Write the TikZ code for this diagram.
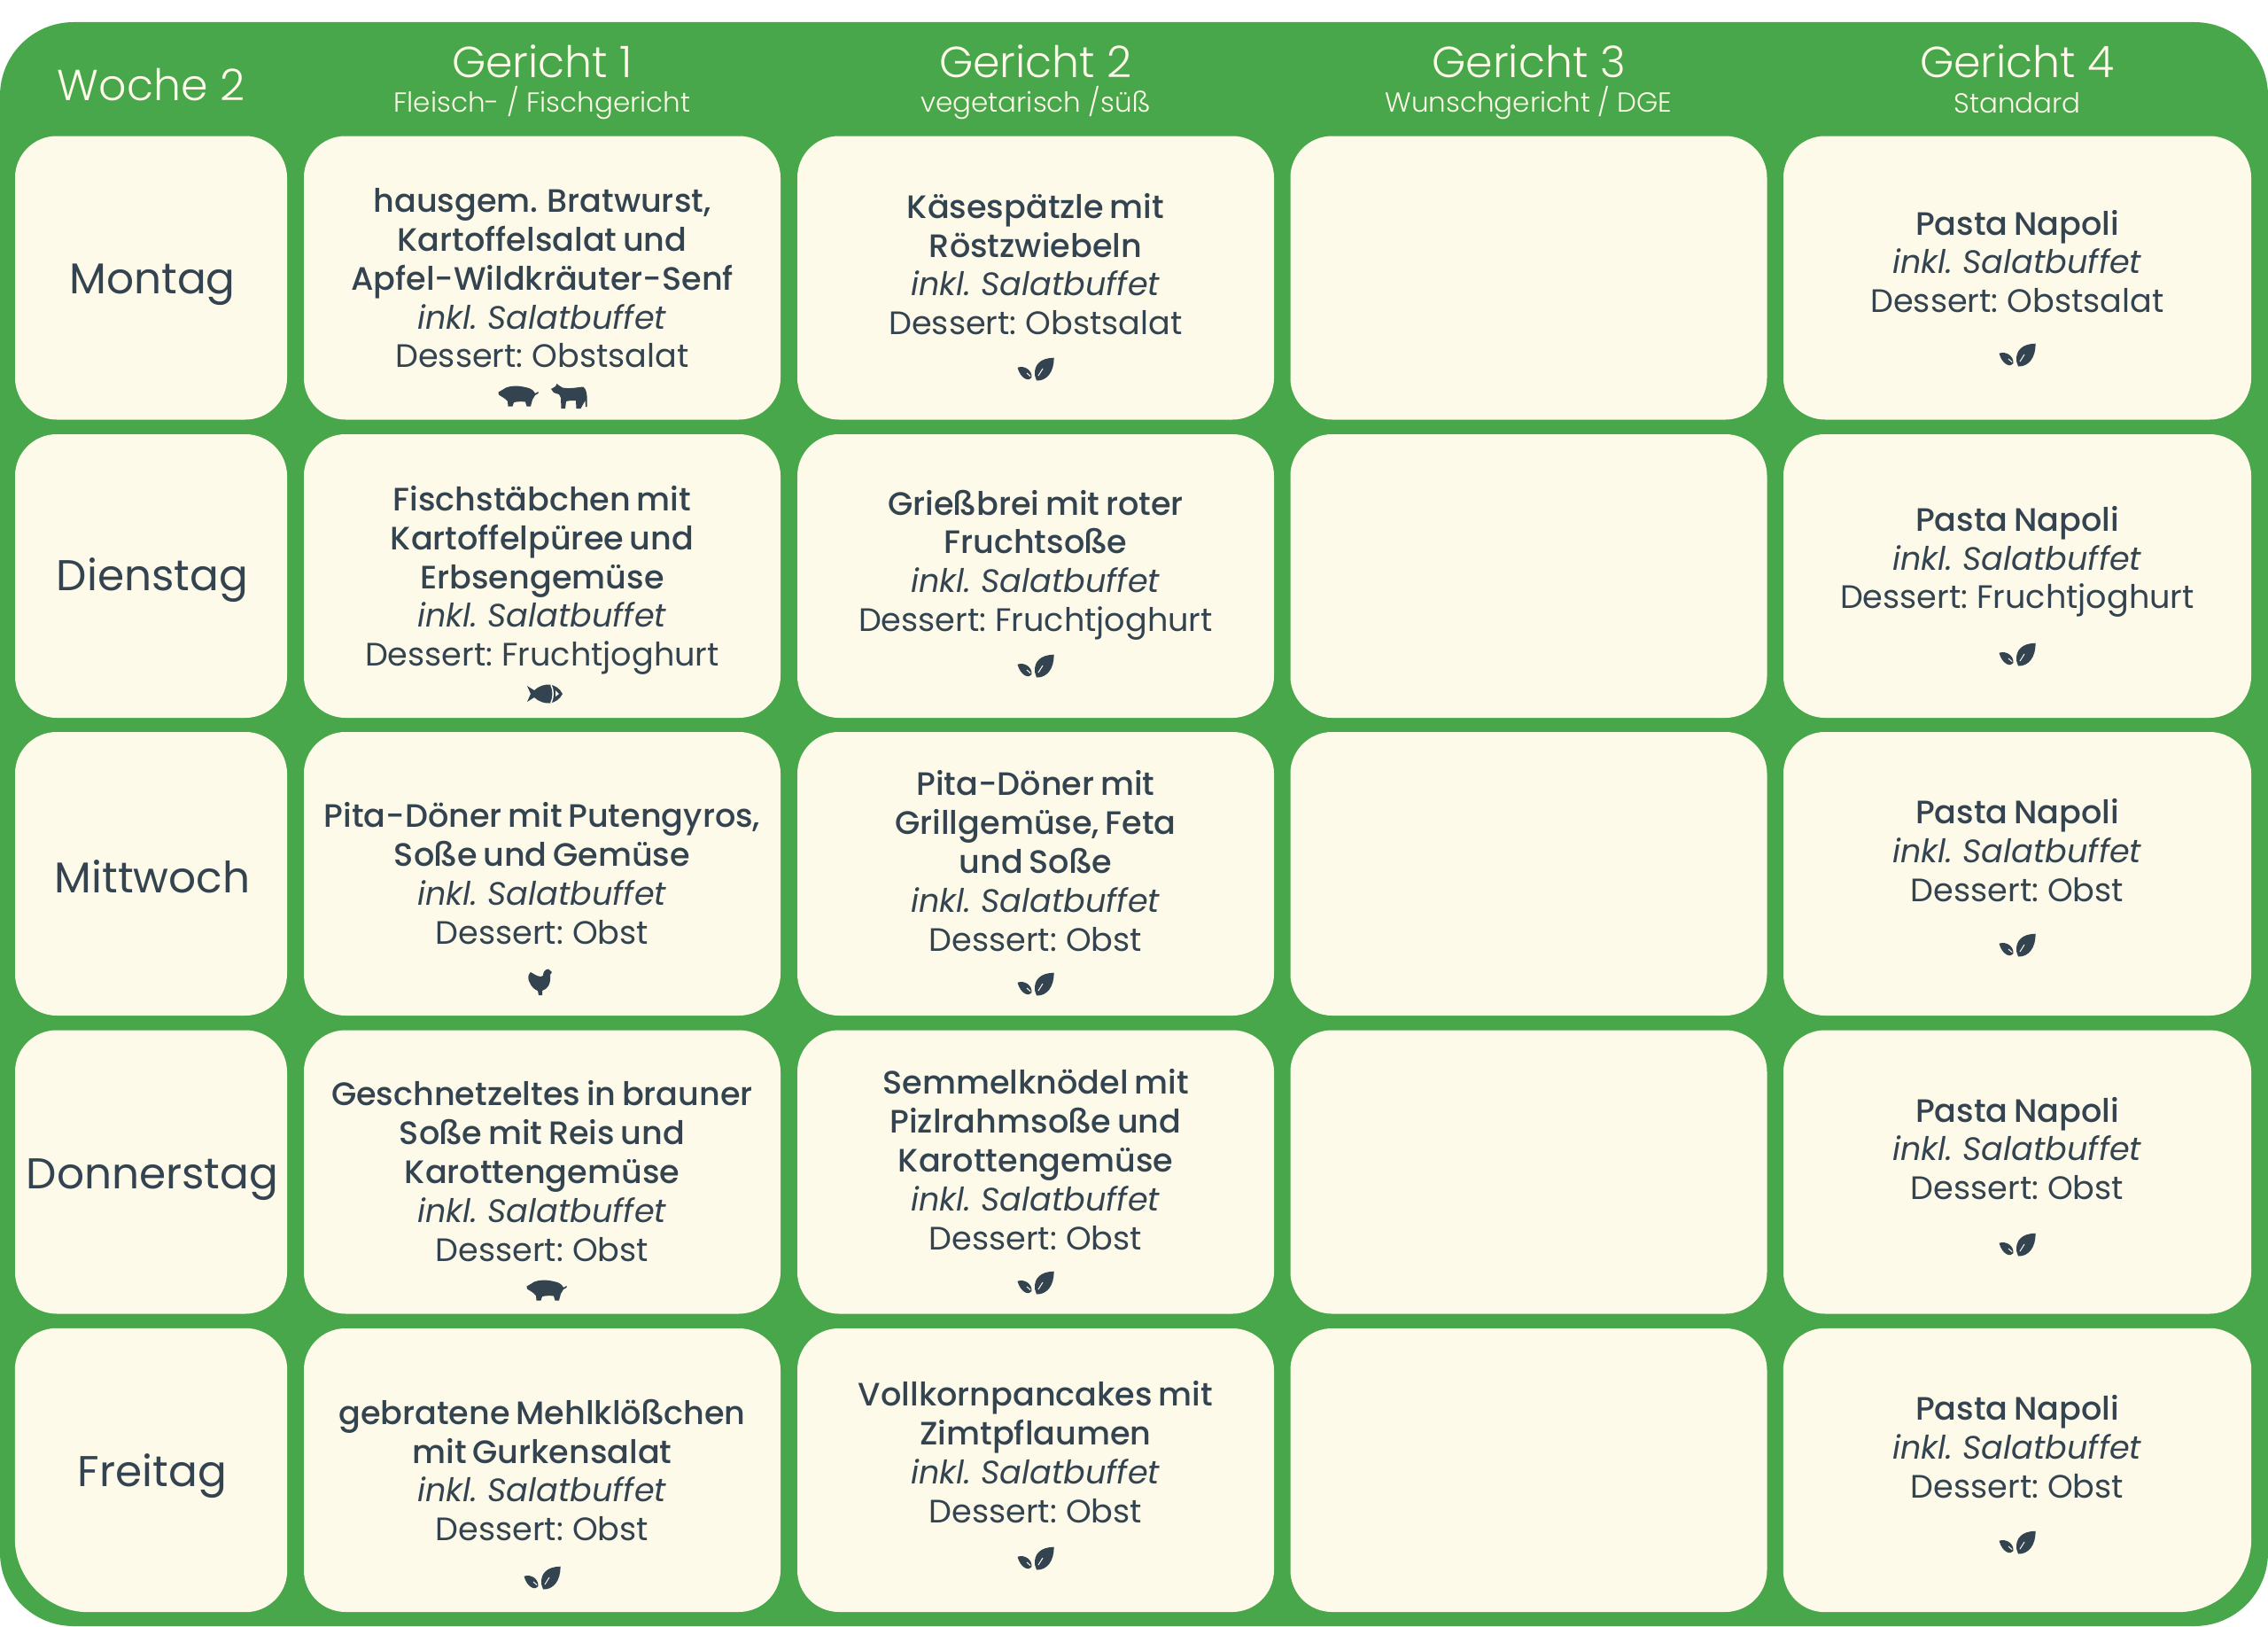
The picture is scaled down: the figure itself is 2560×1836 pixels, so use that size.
\documentclass[tikz,border=0pt]{standalone}
\usepackage{fontspec}
\setmainfont{Poppins}[WordSpace=0.7, BoldFont={Poppins Medium}]
\newfontfamily\lightfont{Poppins Light}
\usetikzlibrary{positioning}
\definecolor{planGreen}{RGB}{71, 167, 74}
\definecolor{cardCream}{RGB}{254, 250, 233}
\definecolor{inkBlue}{RGB}{51, 68, 80}
\tikzset{
  cardbox/.style={rectangle, rounded corners=47pt, minimum width=538pt, minimum height=320pt, fill=cardCream, inner sep=0pt},
  daybox/.style={cardbox, minimum width=307pt},
  lastbox/.style={cardbox, minimum width=528pt},
  daytext/.style={text=inkBlue, font=\fontsize{48.6}{56}\selectfont, inner sep=0pt},
  dishtext/.style={text=inkBlue, align=center, font=\fontsize{36.6}{43.8}\selectfont, inner sep=0pt},
  headtext/.style={text=cardCream, font=\lightfont\fontsize{49}{56}\selectfont, inner sep=0pt},
  subtext/.style={text=cardCream, font=\lightfont\fontsize{31}{36}\selectfont, inner sep=0pt},
  leaficon/.pic={
    \fill [inkBlue] (20.5pt,12.3pt) .. controls (6pt,12pt) and (-2pt,5pt) .. (-1pt,-7.5pt) -- (1pt,-13.5pt) .. controls (13pt,-14pt) and (21pt,-3pt) .. cycle;
    \fill [inkBlue] (-20.5pt,1.3pt) .. controls (-12pt,4pt) and (-4pt,-2pt) .. (-4.5pt,-10pt) .. controls (-7pt,-15pt) and (-17pt,-12pt) .. cycle;
    \draw [cardCream, line width=1pt] (3pt,-8pt) -- (8pt,0pt);
    \draw [cardCream, line width=1pt] (-6pt,-8.5pt) -- (-10pt,-5pt);
  },
  pigicon/.pic={
    \fill [inkBlue] (-22.5pt,4.5pt) -- (-18pt,7pt) -- (-14pt,9.5pt) .. controls (-8pt,12pt) and (0pt,12pt) .. (8pt,10pt) .. controls (14pt,9pt) and (17pt,7pt) .. (19pt,3pt) -- (22.5pt,5pt) -- (22.5pt,3pt) -- (19pt,1pt) -- (16pt,-4pt) -- (14pt,-11.5pt) -- (9.5pt,-11.5pt) -- (8pt,-6.5pt) .. controls (4pt,-6pt) and (0pt,-6pt) .. (-5pt,-7pt) -- (-6.5pt,-11.5pt) -- (-11.5pt,-11.5pt) -- (-12pt,-6pt) -- (-15pt,-3pt) -- (-18pt,-1pt) -- (-22pt,1.5pt) -- cycle;
  },
  cowicon/.pic={
    \fill [inkBlue] (-20pt,8pt) -- (-15pt,11pt) -- (-13.5pt,14pt) -- (-11pt,12pt) -- (-7pt,9.5pt) .. controls (2pt,8pt) and (10pt,10pt) .. (16pt,10.5pt) .. controls (19pt,9pt) and (20pt,5pt) .. (20.5pt,0pt) -- (20.5pt,-12pt) -- (19pt,-12pt) -- (18.5pt,-5pt) -- (13.5pt,-14pt) -- (8.5pt,-14pt) -- (8pt,-5pt) .. controls (4pt,-5pt) and (0pt,-5pt) .. (-3pt,-6pt) -- (-4pt,-14pt) -- (-8.5pt,-14pt) -- (-9pt,-2pt) -- (-11pt,2pt) -- (-17pt,4pt) -- cycle;
  },
  fishicon/.pic={
    \fill [inkBlue] (-20pt,9pt) -- (-12pt,4pt) .. controls (-7pt,9pt) and (1pt,11pt) .. (5pt,10.5pt) .. controls (11pt,10pt) and (17pt,6pt) .. (20pt,0pt) .. controls (17pt,-6pt) and (11pt,-10pt) .. (5pt,-10.5pt) .. controls (1pt,-11pt) and (-7pt,-9pt) .. (-12pt,-4pt) -- (-20pt,-9pt) -- (-16pt,0pt) -- cycle;
    \draw [cardCream, line width=1.5pt] (7pt,10pt) .. controls (10pt,4pt) and (10pt,-4pt) .. (7pt,-10pt);
    \fill [cardCream] (12pt,4pt) -- (16pt,0pt) -- (12pt,-3pt) -- cycle;
  },
  henicon/.pic={
    \fill [inkBlue] (-10pt,11pt) .. controls (-14pt,8pt) and (-13pt,2pt) .. (-11pt,-1pt) .. controls (-9pt,-6pt) and (-5pt,-9pt) .. (-2pt,-10pt) -- (-1pt,-15pt) -- (3pt,-15pt) -- (3pt,-10pt) .. controls (9pt,-8pt) and (13pt,-3pt) .. (12pt,8pt) -- (14pt,11pt) -- (10pt,14.5pt) .. controls (6pt,14pt) and (4pt,11pt) .. (4pt,7pt) .. controls (1pt,4pt) and (-5pt,8pt) .. cycle;
  },
}
\begin{document}
\begin{tikzpicture}
\useasboundingbox (0pt, 0pt) rectangle (2560pt, -1836pt);
\node (plan) [rectangle, rounded corners=83pt, minimum width=2560pt, minimum height=1810pt, fill=planGreen, inner sep=0pt] at (1280pt, -930pt) {};
% header
\node (woche) [headtext] at (170.5pt, -95.5pt) {Woche 2};
\node (head1) [headtext] at (612pt, -69pt) {Gericht 1};
\node (sub1) [subtext] at (612pt, -116pt) {Fleisch- / Fischgericht};
\node (head2) [headtext] at (1169pt, -69pt) {Gericht 2};
\node (sub2) [subtext] at (1169pt, -116pt) {vegetarisch /süß};
\node (head3) [headtext] at (1725.5pt, -69pt) {Gericht 3};
\node (sub3) [subtext] at (1725.5pt, -116pt) {Wunschgericht / DGE};
\node (head4) [headtext] at (2277pt, -69pt) {Gericht 4};
\node (sub4) [subtext] at (2277pt, -116pt) {Standard};
% cards
\node (mo0) [daybox] at (170.5pt, -313.5pt) {};
\node (di0) [daybox] at (170.5pt, -650pt) {};
\node (mi0) [daybox] at (170.5pt, -986pt) {};
\node (do0) [daybox] at (170.5pt, -1322.5pt) {};
\node (fr0) [daybox, fill=none] at (170.5pt, -1659pt) {};
\fill [cardCream, rounded corners=47pt] (fr0.north) -- (fr0.north east) -- (fr0.south east) [rounded corners=83pt] -- (fr0.south west) [rounded corners=47pt] -- (fr0.north west) -- cycle;
\node (mo1) [cardbox] at (612pt, -313.5pt) {};
\node (di1) [cardbox] at (612pt, -650pt) {};
\node (mi1) [cardbox] at (612pt, -986pt) {};
\node (do1) [cardbox] at (612pt, -1322.5pt) {};
\node (fr1) [cardbox] at (612pt, -1659pt) {};
\node (mo2) [cardbox] at (1169pt, -313.5pt) {};
\node (di2) [cardbox] at (1169pt, -650pt) {};
\node (mi2) [cardbox] at (1169pt, -986pt) {};
\node (do2) [cardbox] at (1169pt, -1322.5pt) {};
\node (fr2) [cardbox] at (1169pt, -1659pt) {};
\node (mo3) [cardbox] at (1725.5pt, -313.5pt) {};
\node (di3) [cardbox] at (1725.5pt, -650pt) {};
\node (mi3) [cardbox] at (1725.5pt, -986pt) {};
\node (do3) [cardbox] at (1725.5pt, -1322.5pt) {};
\node (fr3) [cardbox] at (1725.5pt, -1659pt) {};
\node (mo4) [lastbox] at (2277pt, -313.5pt) {};
\node (di4) [lastbox] at (2277pt, -650pt) {};
\node (mi4) [lastbox] at (2277pt, -986pt) {};
\node (do4) [lastbox] at (2277pt, -1322.5pt) {};
\node (fr4) [lastbox, fill=none] at (2277pt, -1659pt) {};
\fill [cardCream, rounded corners=47pt] (fr4.north) -- (fr4.north east) [rounded corners=83pt] -- (fr4.south east) [rounded corners=47pt] -- (fr4.south west) -- (fr4.north west) -- cycle;
% days
\node (montag) [daytext] at (172pt, -321pt) {Montag};
\node (dienstag) [daytext] at (172pt, -655pt) {Dienstag};
\node (mittwoch) [daytext] at (172pt, -989.5pt) {Mittwoch};
\node (donnerstag) [daytext] at (172pt, -1331pt) {Donnerstag};
\node (freitag) [daytext] at (172pt, -1666pt) {Freitag};
% dishes
\node (mo1t) [dishtext] at (612pt, -314pt) {\textbf{hausgem. Bratwurst,}\\\textbf{Kartoffelsalat und}\\\textbf{Apfel-Wildkräuter-Senf}\\\textit{inkl. Salatbuffet}\\Dessert: Obstsalat};
\node (di1t) [dishtext] at (612pt, -655pt) {\textbf{Fischstäbchen mit}\\\textbf{Kartoffelpüree und}\\\textbf{Erbsengemüse}\\\textit{inkl. Salatbuffet}\\Dessert: Fruchtjoghurt};
\node (mi1t) [dishtext] at (612pt, -985.5pt) {\textbf{Pita-Döner mit Putengyros,}\\\textbf{Soße und Gemüse}\\\textit{inkl. Salatbuffet}\\Dessert: Obst};
\node (do1t) [dishtext] at (612pt, -1321.5pt) {\textbf{Geschnetzeltes in brauner}\\\textbf{Soße mit Reis und}\\\textbf{Karottengemüse}\\\textit{inkl. Salatbuffet}\\Dessert: Obst};
\node (fr1t) [dishtext] at (612pt, -1659pt) {\textbf{gebratene Mehlklößchen}\\\textbf{mit Gurkensalat}\\\textit{inkl. Salatbuffet}\\Dessert: Obst};
\node (mo2t) [dishtext] at (1169pt, -298pt) {\textbf{Käsespätzle mit}\\\textbf{Röstzwiebeln}\\\textit{inkl. Salatbuffet}\\Dessert: Obstsalat};
\node (di2t) [dishtext] at (1169pt, -637.5pt) {\textbf{Grießbrei mit roter}\\\textbf{Fruchtsoße}\\\textit{inkl. Salatbuffet}\\Dessert: Fruchtjoghurt};
\node (mi2t) [dishtext] at (1169pt, -971.5pt) {\textbf{Pita-Döner mit}\\\textbf{Grillgemüse, Feta}\\\textbf{und Soße}\\\textit{inkl. Salatbuffet}\\Dessert: Obst};
\node (do2t) [dishtext] at (1169pt, -1308.5pt) {\textbf{Semmelknödel mit}\\\textbf{Pizlrahmsoße und}\\\textbf{Karottengemüse}\\\textit{inkl. Salatbuffet}\\Dessert: Obst};
\node (fr2t) [dishtext] at (1169pt, -1638.5pt) {\textbf{Vollkornpancakes mit}\\\textbf{Zimtpflaumen}\\\textit{inkl. Salatbuffet}\\Dessert: Obst};
\node (mo4t) [dishtext] at (2277pt, -295pt) {\textbf{Pasta Napoli}\\\textit{inkl. Salatbuffet}\\Dessert: Obstsalat};
\node (di4t) [dishtext] at (2277pt, -634pt) {\textbf{Pasta Napoli}\\\textit{inkl. Salatbuffet}\\Dessert: Fruchtjoghurt};
\node (mi4t) [dishtext] at (2277pt, -959.5pt) {\textbf{Pasta Napoli}\\\textit{inkl. Salatbuffet}\\Dessert: Obst};
\node (do4t) [dishtext] at (2277pt, -1296pt) {\textbf{Pasta Napoli}\\\textit{inkl. Salatbuffet}\\Dessert: Obst};
\node (fr4t) [dishtext] at (2277pt, -1632.5pt) {\textbf{Pasta Napoli}\\\textit{inkl. Salatbuffet}\\Dessert: Obst};
% icons
\pic at (585pt, -447pt) {pigicon};
\pic at (642pt, -447pt) {cowicon};
\pic at (615pt, -783pt) {fishicon};
\pic at (609pt, -1108pt) {henicon};
\pic at (617pt, -1456pt) {pigicon};
\pic at (612pt, -1780pt) {leaficon};
\pic at (1169pt, -416pt) {leaficon};
\pic at (1169pt, -751pt) {leaficon};
\pic at (1169pt, -1110pt) {leaficon};
\pic at (1169pt, -1447pt) {leaficon};
\pic at (1169pt, -1758pt) {leaficon};
\pic at (2277pt, -400pt) {leaficon};
\pic at (2277pt, -738pt) {leaficon};
\pic at (2277pt, -1066pt) {leaficon};
\pic at (2277pt, -1404pt) {leaficon};
\pic at (2277pt, -1740pt) {leaficon};
\end{tikzpicture}
\end{document}
